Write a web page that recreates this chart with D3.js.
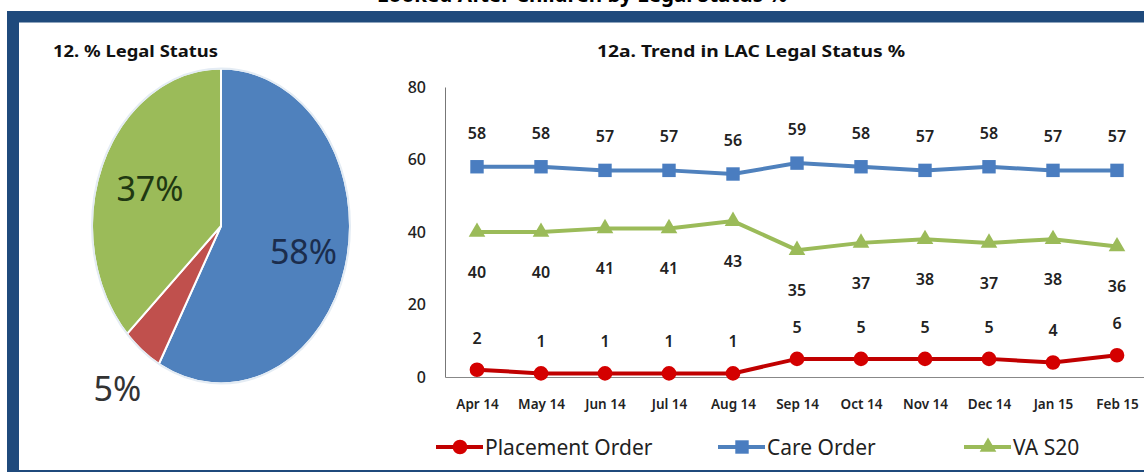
<!DOCTYPE html>
<html>
<head>
<meta charset="utf-8">
<script src="https://cdn.jsdelivr.net/npm/d3@7"></script>
<style>
  body { margin: 0; background: #fff; }
  svg { display: block; font-family: "Noto Sans", sans-serif; }
</style>
</head>
<body>
<svg id="chart" width="1144" height="472"></svg>
<script>
// pie values (%)
const pieLabels = ["Care Order", "Placement Order", "VA S20"];
const pieValues = [58, 5, 37];

// trend values (%)
const months = ["Apr 14", "May 14", "Jun 14", "Jul 14", "Aug 14", "Sep 14", "Oct 14", "Nov 14", "Dec 14", "Jan 15", "Feb 15"];
const placementOrder = [2, 1, 1, 1, 1, 5, 5, 5, 5, 4, 6];
const careOrder = [58, 58, 57, 57, 56, 59, 58, 57, 58, 57, 57];
const vaS20 = [40, 40, 41, 41, 43, 35, 37, 38, 37, 38, 36];
const yTicks = [0, 20, 40, 60, 80];

const navy = "#1f4a7c";
const svg = d3.select("#chart");

// frame (page title is cut off at the top, as in the original)
svg.append("text")
  .attr("x", 582).attr("y", 2)
  .attr("text-anchor", "middle")
  .attr("font-size", 21).attr("font-weight", 700)
  .attr("textLength", 410).attr("lengthAdjust", "spacingAndGlyphs")
  .text("Looked After Children by Legal Status %");
svg.append("rect").attr("x", 7).attr("y", 11).attr("width", 1137).attr("height", 11.5).attr("fill", navy);
svg.append("rect").attr("x", 7).attr("y", 11).attr("width", 12).attr("height", 461).attr("fill", navy);
svg.append("rect").attr("x", 7).attr("y", 470).attr("width", 1137).attr("height", 2).attr("fill", navy);

// ---------- pie ----------
svg.append("text")
  .attr("x", 53).attr("y", 57)
  .attr("font-size", 15.5).attr("font-weight", 700).attr("fill", "#111")
  .attr("textLength", 165).attr("lengthAdjust", "spacingAndGlyphs")
  .text("12. % Legal Status");

const pieColors = ["#4f81bd", "#c0504d", "#9bbb59"];
const pieTextColors = ["#1b2d4d", "#333", "#1f3812"];
const labelRadius = [0.66, 1.31, 0.6];
const rx = 129, ry = 157.5;

const pie = d3.pie().sort(null).value(d => d)(pieValues);
const arc = d3.arc().innerRadius(0).outerRadius(rx);

const pg = svg.append("g")
  .attr("transform", "translate(221,226) scale(1," + (ry / rx) + ")");

pg.selectAll("path.slice")
  .data(pie)
  .join("path")
  .attr("class", "slice")
  .attr("d", arc)
  .attr("fill", (d, i) => pieColors[i])
  .attr("stroke", "#fff")
  .attr("stroke-width", 2)
  .attr("vector-effect", "non-scaling-stroke");

pg.append("ellipse")
  .attr("rx", rx).attr("ry", rx)
  .attr("fill", "none")
  .attr("stroke", "#e4ecf4")
  .attr("stroke-width", 2)
  .attr("vector-effect", "non-scaling-stroke");

pie.forEach((d, i) => {
  const r = rx * labelRadius[i];
  const a = (d.startAngle + d.endAngle) / 2;
  const px = 221 + Math.sin(a) * r;
  const py = 226 - Math.cos(a) * r * (ry / rx);
  svg.append("text")
    .attr("x", px).attr("y", py)
    .attr("dy", "0.36em")
    .attr("text-anchor", "middle")
    .attr("font-size", 34)
    .attr("fill", pieTextColors[i])
    .text(pieValues[i] + "%");
});

// ---------- trend line chart ----------
svg.append("text")
  .attr("x", 751).attr("y", 57)
  .attr("text-anchor", "middle")
  .attr("font-size", 16.5).attr("font-weight", 700).attr("fill", "#111")
  .attr("textLength", 308).attr("lengthAdjust", "spacingAndGlyphs")
  .text("12a. Trend in LAC Legal Status %");

const x = d3.scalePoint().domain(months).range([445, 1149]).padding(0.5);
const y = d3.scaleLinear().domain([0, 80]).range([377, 87]);

const yAxis = svg.append("g")
  .attr("transform", "translate(445,0)")
  .call(d3.axisLeft(y).tickValues(yTicks).tickSize(0).tickSizeOuter(0).tickPadding(19));
yAxis.select(".domain").attr("stroke", "#777");
yAxis.selectAll(".tick text").attr("font-size", 16).attr("font-weight", 500).attr("fill", "#222").attr("font-family", "Noto Sans");

const xAxis = svg.append("g")
  .attr("transform", "translate(0,377)")
  .call(d3.axisBottom(x).tickSize(0).tickSizeOuter(0).tickPadding(22));
xAxis.select(".domain").attr("stroke", "#888");
xAxis.selectAll(".tick text").attr("font-size", 13.5).attr("font-weight", 600).attr("fill", "#222").attr("font-family", "Noto Sans");

const series = [
  { name: "Placement Order", values: placementOrder, line: "#c00000", fill: "#d40000", marker: "circle", labelDy: -32 },
  { name: "Care Order", values: careOrder, line: "#4f81bd", fill: "#4a7dc0", marker: "square", labelDy: -34 },
  { name: "VA S20", values: vaS20, line: "#9bbb59", fill: "#9bbb59", marker: "triangle", labelDy: 40 }
];

const line = d3.line()
  .x((d, i) => x(months[i]))
  .y(d => y(d));

const symbolOf = {
  circle: d3.symbol().type(d3.symbolCircle).size(170),
  square: d3.symbol().type(d3.symbolSquare).size(180),
  triangle: d3.symbol().type(d3.symbolTriangle).size(120)
};

series.forEach(s => {
  const g = svg.append("g");
  g.append("path")
    .datum(s.values)
    .attr("d", line)
    .attr("fill", "none")
    .attr("stroke", s.line)
    .attr("stroke-width", 4);
  g.selectAll("path.mk")
    .data(s.values)
    .join("path")
    .attr("class", "mk")
    .attr("transform", (d, i) => "translate(" + x(months[i]) + "," + y(d) + ")")
    .attr("d", symbolOf[s.marker])
    .attr("fill", s.fill);
  g.selectAll("text.lbl")
    .data(s.values)
    .join("text")
    .attr("class", "lbl")
    .attr("x", (d, i) => x(months[i]))
    .attr("y", d => y(d) + s.labelDy)
    .attr("dy", "0.36em")
    .attr("text-anchor", "middle")
    .attr("font-size", 16)
    .attr("font-weight", 600)
    .attr("fill", "#222")
    .text(d => d);
});

// legend
const legendTextX = [485, 767, 1013];
const lg = svg.append("g").attr("transform", "translate(0,447)");
series.forEach((s, i) => {
  const tx = legendTextX[i];
  lg.append("line")
    .attr("x1", tx - 49).attr("x2", tx - 2)
    .attr("stroke", s.line).attr("stroke-width", 4);
  lg.append("path")
    .attr("transform", "translate(" + (tx - 25) + ",0)")
    .attr("d", symbolOf[s.marker])
    .attr("fill", s.fill);
  lg.append("text")
    .attr("x", tx).attr("dy", "0.36em")
    .attr("font-size", 21)
    .attr("fill", "#222")
    .text(s.name);
});
</script>
</body>
</html>
